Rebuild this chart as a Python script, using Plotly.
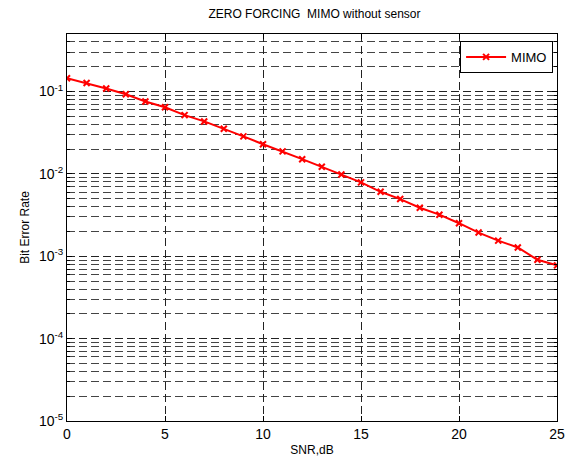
import numpy as np
import plotly.graph_objects as go

# SNR sweep (dB) and measured bit error rate for zero-forcing MIMO
snr_db = list(range(0, 26))
ber_mimo = [0.145, 0.127, 0.109, 0.0927, 0.0757, 0.0645, 0.0518, 0.0434, 0.0354,
            0.0286, 0.0229, 0.0188, 0.0151, 0.0122, 0.00984, 0.00789, 0.00607,
            0.00495, 0.00389, 0.0032, 0.00252, 0.00194, 0.00155, 0.00128,
            0.000908, 0.000775]

# decade ticks (labelled) and in-between log grid positions (unlabelled)
decades = [-5, -4, -3, -2, -1]
major_vals = [10.0 ** d for d in decades]
major_text = [f"10<sup>{d}</sup>" for d in decades]
minor_vals = []
for d in decades:
    for m in range(2, 10):
        v = m * 10.0 ** d
        if v > 0.5:
            break
        minor_vals.append(v)

x_ticks = [0, 5, 10, 15, 20, 25]

font = "Liberation Sans, Arial, sans-serif"
dash = "8px,4px"

fig = go.Figure()
fig.add_trace(go.Scatter(
    x=snr_db, y=ber_mimo, mode="lines+markers", name="MIMO",
    line=dict(color="#ff0000", width=2),
    marker=dict(symbol="x-thin", size=6, color="#ff0000",
                line=dict(color="#ff0000", width=2)),
))

fig.update_layout(
    width=577, height=466,
    margin=dict(l=67, r=15, t=34, b=43),
    paper_bgcolor="white", plot_bgcolor="white",
    font=dict(family=font, size=12, color="black"),
    title=dict(text="ZERO FORCING  MIMO without sensor", x=0.545, xanchor="center",
               y=1 - 14 / 466, yanchor="middle",
               font=dict(family=font, size=12, color="black")),
    showlegend=True,
    legend=dict(x=0.992, y=0.982, xanchor="right", yanchor="top",
                bgcolor="white", bordercolor="black", borderwidth=1,
                font=dict(family=font, size=13, color="black"),
                itemwidth=40),
)

fig.update_xaxes(
    range=[0, 25], tickvals=x_ticks, ticktext=[str(v) for v in x_ticks],
    showgrid=True, gridcolor="#222222", gridwidth=1, griddash=dash,
    zeroline=False, showline=True, linecolor="black", linewidth=1, mirror="ticks",
    ticks="inside", ticklen=5, tickcolor="black",
    tickfont=dict(family=font, size=14),
    title=dict(text="SNR,dB", font=dict(family=font, size=12), standoff=4),
)
fig.update_yaxes(
    type="log", range=[-5, np.log10(0.5)],
    tickvals=major_vals, ticktext=major_text,
    showgrid=True, gridcolor="#222222", gridwidth=1, griddash=dash,
    minor=dict(tickmode="array", tickvals=minor_vals, showgrid=True,
               gridcolor="#444444", gridwidth=1, griddash=dash,
               ticks="inside", ticklen=3, tickcolor="black"),
    zeroline=False, showline=True, linecolor="black", linewidth=1, mirror="ticks",
    ticks="inside", ticklen=5, tickcolor="black",
    tickfont=dict(family=font, size=14),
    title=dict(text="Bit Error Rate", font=dict(family=font, size=12), standoff=6),
)

fig.write_html("out.html")
